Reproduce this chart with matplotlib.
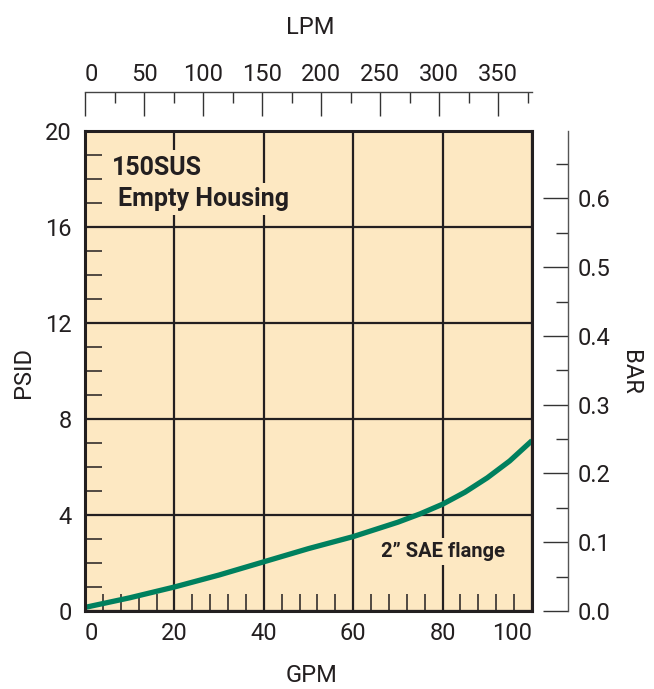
import matplotlib
matplotlib.use('Agg')
import matplotlib.pyplot as plt
from matplotlib.ticker import MultipleLocator, FixedLocator, FormatStrFormatter

plt.rcParams['font.family'] = ['Roboto', 'DejaVu Sans']

# ---- data ----
gpm = [0, 10, 20, 30, 40, 50, 60, 70, 75, 80, 85, 90, 95, 100]
psid = [0.15, 0.55, 1.0, 1.5, 2.05, 2.6, 3.1, 3.7, 4.05, 4.45, 4.95, 5.55, 6.25, 7.1]

gpm_ticks = [0, 20, 40, 60, 80, 100]
psid_ticks = [0, 4, 8, 12, 16, 20]
lpm_ticks = [0, 50, 100, 150, 200, 250, 300, 350]
lpm_minor = [25, 75, 125, 175, 225, 275, 325, 375]
bar_ticks = [0.0, 0.1, 0.2, 0.3, 0.4, 0.5, 0.6]
bar_minor = [0.05, 0.15, 0.25, 0.35, 0.45, 0.55, 0.65]

LPM_PER_GPM = 3.785
BAR_PER_PSI = 0.698 / 20

W, H = 654, 689
PT = 72 / 100  # points per pixel
fig = plt.figure(figsize=(W / 100, H / 100), dpi=100)
L, R, T, B = 85, 532, 131, 611
ax = fig.add_axes([L / W, 1 - B / H, (R - L) / W, (B - T) / H])

bg = '#FDE8C2'
ink = '#231F20'
green = '#00805E'

ax.set_facecolor(bg)
ax.set_xlim(0, 100)
ax.set_ylim(0, 20)

ax.plot(gpm, psid, color=green, lw=3.8, zorder=3, solid_capstyle='butt')

ax.set_xticks(gpm_ticks)
ax.set_yticks(psid_ticks)
ax.xaxis.set_minor_locator(MultipleLocator(4))
ax.yaxis.set_minor_locator(MultipleLocator(1))
ax.grid(True, which='major', color=ink, lw=1.6)
ax.tick_params(which='major', length=0, labelsize=17, labelcolor=ink)
ax.tick_params(axis='x', which='major', pad=8)
ax.tick_params(axis='y', which='major', pad=9.5)
ax.tick_params(which='minor', direction='in', length=12, width=1.1, color=ink)
ax.tick_params(which='both', top=False, right=False)
for s in ax.spines.values():
    s.set_linewidth(2.2)
    s.set_color(ink)
    s.set_zorder(5)
xl = ax.get_xticklabels()
xl[0].set_ha('left')
xl[-1].set_ha('right')

# top LPM axis
sec = ax.secondary_xaxis('top', functions=(lambda g: g * LPM_PER_GPM,
                                           lambda l: l / LPM_PER_GPM))
sec.spines['top'].set_position(('outward', 39 * PT))
sec.spines['top'].set_color('#444444')
sec.spines['top'].set_linewidth(1.0)
sec.set_xticks(lpm_ticks)
sec.xaxis.set_minor_locator(FixedLocator(lpm_minor))
sec.tick_params(which='major', direction='in', length=17, width=1.0, color='#333333',
                pad=4.5, labelsize=17, labelcolor=ink)
sec.tick_params(which='minor', direction='in', length=8, width=1.0, color='#333333')
tl = sec.get_xticklabels()
tl[0].set_ha('left')

# right BAR axis
sy = ax.secondary_yaxis('right', functions=(lambda p: p * BAR_PER_PSI,
                                            lambda b: b / BAR_PER_PSI))
sy.spines['right'].set_position(('outward', 36 * PT))
sy.spines['right'].set_color('#555555')
sy.spines['right'].set_linewidth(1.0)
sy.set_yticks(bar_ticks)
sy.yaxis.set_minor_locator(FixedLocator(bar_minor))
sy.yaxis.set_major_formatter(FormatStrFormatter('%.1f'))
sy.tick_params(which='major', direction='in', length=18, width=1.0, color='#333333',
               pad=7, labelsize=17, labelcolor=ink)
sy.tick_params(which='minor', direction='in', length=9, width=1.0, color='#333333')

# axis titles
fig.text(310 / W, 1 - 27 / H, 'LPM', ha='center', va='center', fontsize=17, color=ink)
fig.text(312 / W, 1 - 676 / H, 'GPM', ha='center', va='center', fontsize=17, color=ink)
fig.text(24 / W, 1 - 372 / H, 'PSID', ha='center', va='center', rotation=90,
         fontsize=17, color=ink)
fig.text(631 / W, 1 - 372 / H, 'BAR', ha='center', va='center', rotation=-90,
         fontsize=17, color=ink)

# annotations
def px2data(x, y):
    return (x - L) / (R - L) * 100, (B - y) / (B - T) * 20

x0, y0 = px2data(112, 175)
ax.text(x0, y0, '150SUS', fontsize=18, fontweight='bold', color=ink,
        ha='left', va='baseline',
        bbox=dict(boxstyle='square,pad=0.25', fc=bg, ec='none'), zorder=4)
x1, y1 = px2data(118, 206)
ax.text(x1, y1, 'Empty Housing', fontsize=18, fontweight='bold', color=ink,
        ha='left', va='baseline',
        bbox=dict(boxstyle='square,pad=0.15', fc=bg, ec='none'), zorder=4)
x2, y2 = px2data(443, 557)
ax.text(x2, y2, '2\u201d SAE flange', fontsize=14.5, fontweight='bold', color=ink,
        ha='center', va='baseline',
        bbox=dict(boxstyle='square,pad=0.2', fc=bg, ec='none'), zorder=4)

fig.savefig('out.png', dpi=100)
